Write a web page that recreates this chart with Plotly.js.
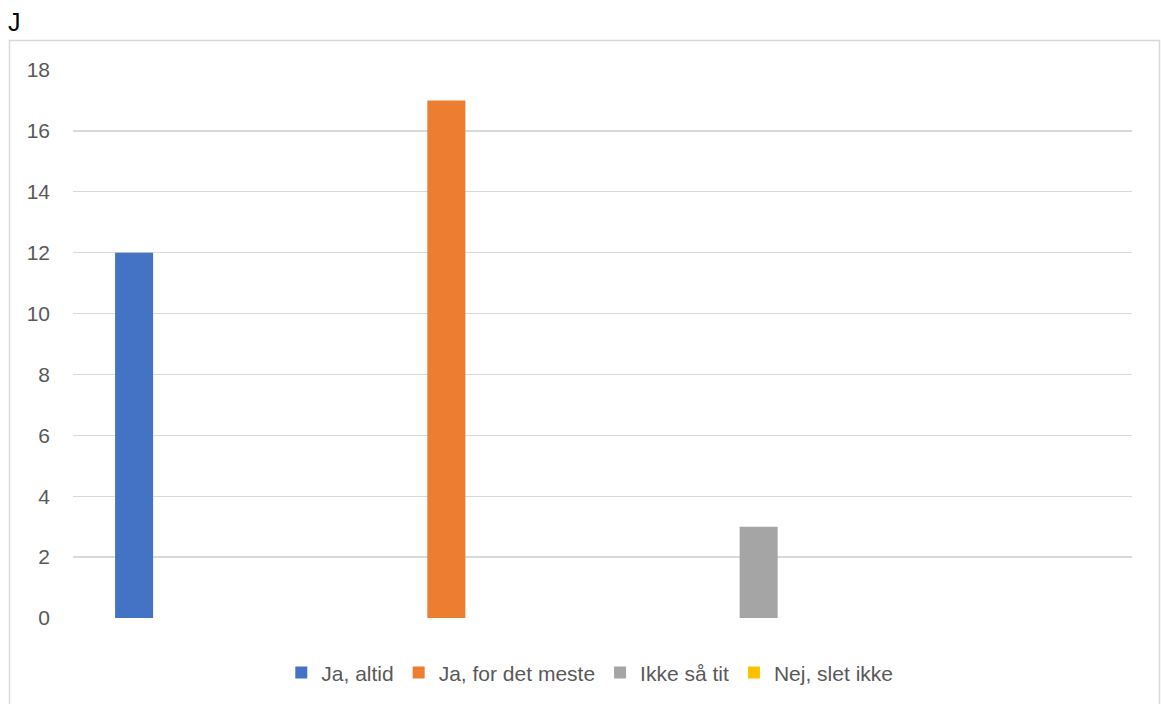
<!DOCTYPE html>
<html><head><meta charset="utf-8">
<script src="https://cdn.plot.ly/plotly-3.0.1.min.js"></script>
<style>html,body{margin:0;padding:0;background:#fff}#c{width:1161px;height:704px}</style>
</head><body><div id="c"></div>
<script>
const categories = ["Ja, altid", "Ja, for det meste", "Ikke så tit", "Nej, slet ikke"];
const seriesNames = ["Ja, altid", "Ja, for det meste", "Ikke så tit", "Nej, slet ikke"];
const jaAltid = [12, 0, 0, 0];
const jaForDetMeste = [0, 17, 0, 0];
const ikkeSaaTit = [0, 0, 3, 0];
const nejSletIkke = [0, 0, 0, 0];
const colors = ["#4472C4", "#ED7D31", "#A5A5A5", "#FFC000"];
const values = [jaAltid, jaForDetMeste, ikkeSaaTit, nejSletIkke];
const font = "Liberation Sans, Arial, sans-serif";

const traces = values.map((v, i) => ({
  type: "bar", x: categories, y: v, name: seriesNames[i],
  marker: {color: colors[i]}, hoverinfo: "y+name"
}));

const layout = {
  width: 1161, height: 704,
  margin: {l: 73, r: 29, t: 70, b: 85},
  paper_bgcolor: "#fff", plot_bgcolor: "#fff",
  barmode: "group", bargap: 0.282, bargroupgap: 0.2,
  font: {family: font, color: "#595959", size: 20},
  xaxis: {showticklabels: false, showgrid: false, zeroline: false, showline: false, ticks: ""},
  yaxis: {range: [0, 18], dtick: 2, tick0: 0, showgrid: true, gridcolor: "#D9D9D9", gridwidth: 1.3,
          zeroline: false, showline: false, ticks: "", ticklabelstandoff: 22,
          tickfont: {family: font, size: 21, color: "#595959"}},
  showlegend: true,
  legend: {orientation: "h", x: 0.488, xanchor: "center", y: -0.098, yanchor: "middle",
           font: {family: font, size: 21, color: "#595959"}, itemwidth: 30, traceorder: "normal"},
  shapes: [{type: "rect", xref: "paper", yref: "paper", x0: (9.5 - 73) / 1059, x1: (1159.5 - 73) / 1059,
            y0: -0.3, y1: (619 - 40.5) / 549, line: {color: "#D9D9D9", width: 1.5}, fillcolor: "rgba(0,0,0,0)", layer: "below"}],
  annotations: [{text: "J", xref: "paper", yref: "paper", x: (6 - 73) / 1059, xanchor: "left",
                 y: (619 - 22) / 549, yanchor: "middle", showarrow: false,
                 font: {family: font, size: 25, color: "#000"}}]
};
Plotly.newPlot("c", traces, layout, {displayModeBar: false, staticPlot: true});
</script></body></html>
